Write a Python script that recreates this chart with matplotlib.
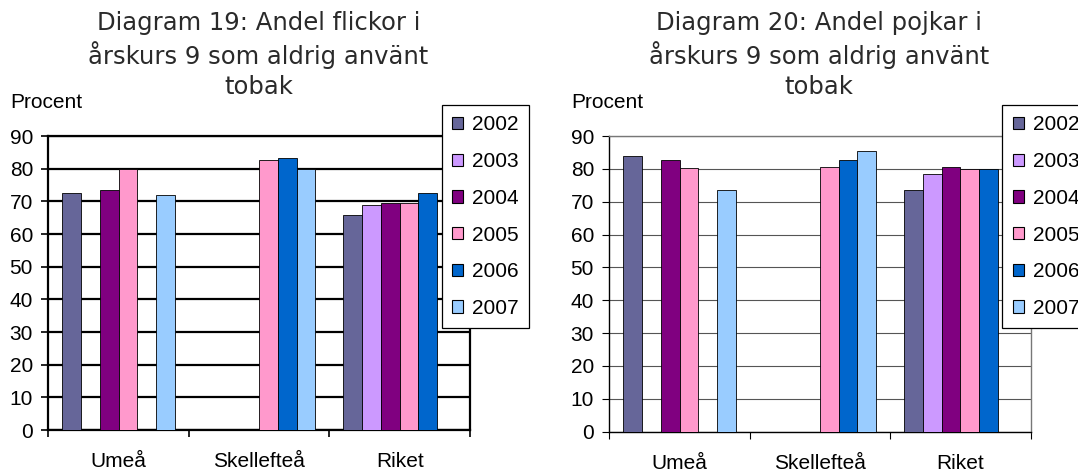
import numpy as np
import matplotlib
matplotlib.use("Agg")
import matplotlib.pyplot as plt
from matplotlib.patches import Patch

plt.rcParams['font.family'] = ['Liberation Sans', 'DejaVu Sans']

nan = np.nan
categories = ['Umeå', 'Skellefteå', 'Riket']
years = ['2002', '2003', '2004', '2005', '2006', '2007']
colors = ['#666699', '#CC99FF', '#800080', '#FF99CC', '#0066CC', '#99CCFF']

# Diagram 19: girls (values per year, over categories)
girls_2002 = [72.5, nan, 65.8]
girls_2003 = [nan, nan, 69.0]
girls_2004 = [73.5, nan, 69.6]
girls_2005 = [79.8, 82.7, 69.6]
girls_2006 = [nan, 83.2, 72.5]
girls_2007 = [71.9, 79.9, nan]

# Diagram 20: boys
boys_2002 = [83.9, nan, 73.7]
boys_2003 = [nan, nan, 78.5]
boys_2004 = [82.6, nan, 80.6]
boys_2005 = [80.3, 80.6, 79.9]
boys_2006 = [nan, 82.7, 79.9]
boys_2007 = [73.7, 85.4, nan]

girls = [girls_2002, girls_2003, girls_2004, girls_2005, girls_2006, girls_2007]
boys = [boys_2002, boys_2003, boys_2004, boys_2005, boys_2006, boys_2007]

title1 = 'Diagram 19: Andel flickor i\nårskurs 9 som aldrig använt\ntobak'
title2 = 'Diagram 20: Andel pojkar i\nårskurs 9 som aldrig använt\ntobak'
ylabel = 'Procent'
yticks = list(range(0, 91, 10))

W, H = 1078, 473
fig = plt.figure(figsize=(W / 100, H / 100), dpi=100)
FS = 15


def draw(rect, data, title, title_x, legend_x, thick):
    ax = fig.add_axes(rect)
    x = np.arange(len(categories))
    bw = 0.8 / len(years)
    for i, (vals, col) in enumerate(zip(data, colors)):
        v = np.array(vals, dtype=float)
        ax.bar(x + (i - 2.5) * bw, v, width=bw, color=col,
               edgecolor='black', linewidth=0.6, zorder=3)
    ax.set_xlim(-0.5, len(categories) - 0.5)
    ax.set_ylim(0, 90)
    ax.set_yticks(yticks)
    ax.set_axisbelow(True)
    # category boundaries as major ticks, labels at minor ticks
    ax.set_xticks(np.arange(-0.5, len(categories), 1.0))
    ax.set_xticklabels([])
    ax.set_xticks(x, minor=True)
    ax.set_xticklabels(categories, minor=True, fontsize=FS)
    ax.tick_params(axis='x', which='minor', length=0, pad=16)
    ax.tick_params(axis='x', which='major', length=5, width=1.2 if thick else 0.8,
                   direction='out')
    ax.tick_params(axis='y', length=5, width=1.2 if thick else 0.8,
                   direction='out', pad=6, labelsize=FS)
    if thick:
        ax.grid(axis='y', color='black', linewidth=1.6)
        for s in ax.spines.values():
            s.set_color('black')
            s.set_linewidth(1.6)
    else:
        ax.grid(axis='y', color='#555555', linewidth=0.8)
        for k, s in ax.spines.items():
            s.set_color('black' if k in ('left', 'bottom') else '#777777')
            s.set_linewidth(1.0)
    handles = [Patch(facecolor=c, edgecolor='black', linewidth=0.8) for c in colors]
    leg = ax.legend(handles, years, loc='upper left',
                    bbox_to_anchor=(legend_x / W, 1 - 105 / H),
                    bbox_transform=fig.transFigure, borderaxespad=0,
                    fontsize=FS, handlelength=0.53, handleheight=0.53,
                    handletextpad=0.42, labelspacing=0.85, borderpad=0.5,
                    fancybox=False, framealpha=1, edgecolor='black')
    leg.get_frame().set_linewidth(0.9)
    leg.set_zorder(10)
    fig.text(title_x / W, 1 - 11 / H, title, ha='center', va='top',
             fontsize=17.5, family='DejaVu Sans', color='#2a2a2a', linespacing=1.28)
    fig.text((rect[0] * W - 38) / W, 1 - 103 / H, ylabel, ha='left', va='center',
             fontsize=FS)
    return ax


draw([48.3 / W, 43 / H, (470 - 48.3) / W, 294 / H], girls, title1, 258.5, 441.7, True)
draw([609.3 / W, 41.3 / H, (1030.7 - 609.3) / W, 295.7 / H], boys, title2, 819, 1002.3, False)

fig.savefig('out.png', dpi=100)
